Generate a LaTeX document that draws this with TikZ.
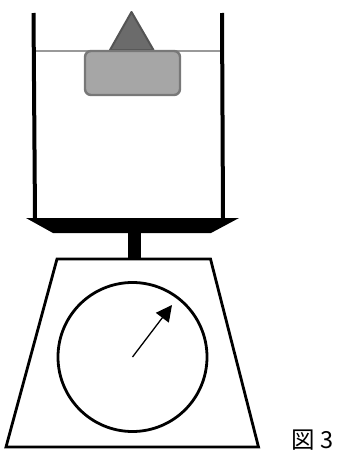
\documentclass[tikz,border=0pt]{standalone}
\usepackage{fontspec}
\setmainfont{Noto Sans CJK JP}
\usetikzlibrary{arrows.meta}
\definecolor{tri}{gray}{0.42}
\definecolor{triedge}{gray}{0.33}
\definecolor{blk}{gray}{0.65}
\definecolor{blkedge}{gray}{0.47}
\definecolor{waterc}{gray}{0.6}
\tikzset{x=1pt,y=-1pt,
 wall/.style={line width=4pt,black},
 outline/.style={line width=2.8pt,black,line join=miter},
 waterline/.style={line width=1.4pt,waterc},
 cone/.style={fill=tri,draw=triedge,line width=2pt,line join=round},
 block/.style={draw=blkedge,fill=blk,line width=2.4pt,rounded corners=6pt,minimum width=95pt,minimum height=44pt,inner sep=0pt},
 dial/.style={circle,draw=black,line width=2.8pt,minimum size=149pt,inner sep=0pt},
 caption/.style={font=\fontsize{23.5}{23.5}\selectfont,inner sep=0pt,anchor=center}
}
\begin{document}
\begin{tikzpicture}
\useasboundingbox (0,0) rectangle (337,450);
\fill[white] (0,0) rectangle (337,450);
\draw[waterline] (33.5,51) -- (222,51);
\draw[wall] (33.5,13) -- (35,218);
\draw[wall] (222,13) -- (223,218);
\draw[cone] (131.5,12) -- (110,50) -- (153.5,50) -- cycle;
\node[block] (b) at (132.5,73) {};
\fill[black] (26,218) -- (239,218) -- (211,233) -- (53,233) -- cycle;
\fill[black] (128,233) rectangle (140.5,260);
\draw[outline] (57,259) -- (210.5,259) -- (258.5,447) -- (6,447) -- cycle;
\node[dial] (d) at (132.5,357) {};
\coordinate (q) at (172,305);
\draw[line width=1.3pt,-{Triangle[length=16pt,width=16pt]}] (d.center) -- (q);
\node[caption] (c) at (312.5,440) {図\hspace{5pt}3};
\end{tikzpicture}
\end{document}
